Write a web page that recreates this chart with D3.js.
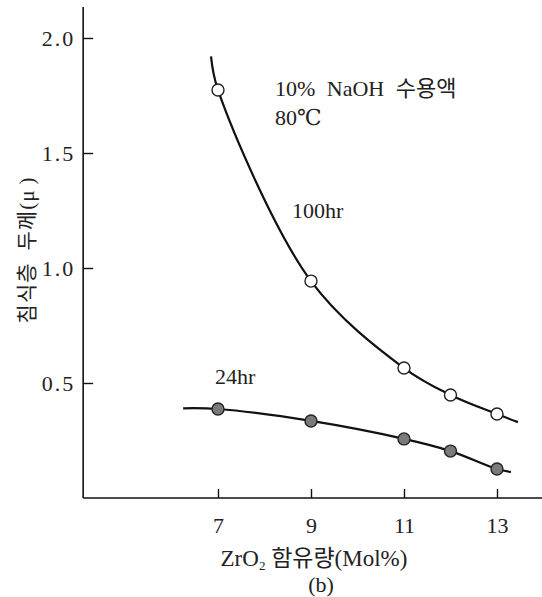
<!DOCTYPE html>
<html>
<head>
<meta charset="utf-8">
<script src="https://cdn.jsdelivr.net/npm/d3@7"></script>
<style>
    body { margin: 0; background: #fff; }
    svg text { font-family: "Liberation Serif", "DejaVu Serif", "Noto Sans CJK KR", serif; fill: #222; }
</style>
</head>
<body>
<svg id="chart" width="542" height="597"></svg>
<script>
// ZrO2 content (Mol%) of the measured samples
const zrO2 = [7, 9, 11, 12, 13];
// corrosion layer thickness (μ)
const hr100 = [1.774, 0.943, 0.565, 0.448, 0.365];
const hr24 = [0.387, 0.335, 0.257, 0.204, 0.126];

// where the hand-drawn curves start and stop beyond the measured points
const hr100Ends = [[6.85, 1.92], [13.45, 0.33]];
const hr24Ends = [[6.25, 0.39], [13.3, 0.113]];

const xTicks = [7, 9, 11, 13];
const yTicks = [0.5, 1.0, 1.5, 2.0];

const svg = d3.select('#chart');

const x = d3.scaleLinear().domain([7, 13]).range([218, 497]);
const y = d3.scaleLinear().domain([0, 2]).range([498, 38]);

// axis lines (drawn a bit longer than the tick range, like the original)
svg.append('line')
    .attr('x1', x(4.1)).attr('x2', x(14))
    .attr('y1', y(0)).attr('y2', y(0))
    .style('stroke', '#111').style('stroke-width', 1.6);
svg.append('line')
    .attr('x1', x(4.1)).attr('x2', x(4.1))
    .attr('y1', y(0)).attr('y2', y(2.135))
    .style('stroke', '#111').style('stroke-width', 1.6);

// y axis: ticks point inwards
const yAxis = d3.axisLeft(y)
    .tickValues(yTicks)
    .tickSize(-10)
    .tickPadding(8)
    .tickFormat(d3.format('.1f'));
svg.append('g')
    .attr('transform', `translate(${x(4.1)},0)`)
    .call(yAxis)
    .call(g => g.select('.domain').remove())
    .call(g => g.selectAll('line').style('stroke', '#111').style('stroke-width', 1.4))
    .call(g => g.selectAll('text')
        .style('font-size', '22px')
        .style('letter-spacing', '2px')
        .style('font-family', '"Liberation Serif", serif'));

// x axis: ticks point upwards
const xAxis = d3.axisBottom(x)
    .tickValues(xTicks)
    .tickSize(-9)
    .tickPadding(19)
    .tickFormat(d3.format('d'));
svg.append('g')
    .attr('transform', `translate(0,${y(0)})`)
    .call(xAxis)
    .call(g => g.select('.domain').remove())
    .call(g => g.selectAll('line').style('stroke', '#111').style('stroke-width', 1.4))
    .call(g => g.selectAll('text')
        .style('font-size', '22px')
        .style('font-family', '"Liberation Serif", serif'));

// curves
const line = d3.line()
    .x(d => x(d[0]))
    .y(d => y(d[1]))
    .curve(d3.curveCatmullRom.alpha(0.5));

const series = [
    { name: '100hr', values: hr100, ends: hr100Ends, fill: '#fff' },
    { name: '24hr', values: hr24, ends: hr24Ends, fill: '#7a7a7a' }
];

series.forEach(s => {
    const pts = [s.ends[0], ...zrO2.map((z, i) => [z, s.values[i]]), s.ends[1]];
    svg.append('path')
        .attr('d', line(pts))
        .style('fill', 'none')
        .style('stroke', '#111')
        .style('stroke-width', 2.2);

    svg.selectAll(null)
        .data(zrO2.map((z, i) => [z, s.values[i]]))
        .enter()
        .append('circle')
        .attr('cx', d => x(d[0]))
        .attr('cy', d => y(d[1]))
        .attr('r', 6)
        .style('fill', s.fill)
        .style('stroke', '#222')
        .style('stroke-width', 1.4);
});

// annotations
svg.append('text')
    .attr('x', 275).attr('y', 96)
    .style('font-size', '22px')
    .style('word-spacing', '6px')
    .text('10% NaOH 수용액');
svg.append('text')
    .attr('x', 275).attr('y', 125)
    .style('font-size', '22px')
    .text('80℃');
svg.append('text')
    .attr('x', 292).attr('y', 218)
    .style('font-size', '22px')
    .text('100hr');
svg.append('text')
    .attr('x', 215).attr('y', 384)
    .style('font-size', '22px')
    .text('24hr');

// axis titles
const xTitle = svg.append('text')
    .attr('x', 314).attr('y', 566)
    .attr('text-anchor', 'middle')
    .style('font-size', '23px');
xTitle.append('tspan').text('ZrO');
xTitle.append('tspan').attr('dy', 4).style('font-size', '13px').text('2');
xTitle.append('tspan').attr('dy', -4).text(' 함유량(Mol%)');

svg.append('text')
    .attr('x', 321).attr('y', 592)
    .attr('text-anchor', 'middle')
    .style('font-size', '22px')
    .text('(b)');

const yTitle = svg.append('text')
    .attr('transform', 'translate(34,250) rotate(-90)')
    .attr('text-anchor', 'middle')
    .style('font-size', '21px')
    .style('letter-spacing', '1px');
yTitle.append('tspan').text('침식층');
yTitle.append('tspan').attr('dx', 12).text('두께(μ');
yTitle.append('tspan').attr('dx', 5).text(')');
</script>
</body>
</html>
